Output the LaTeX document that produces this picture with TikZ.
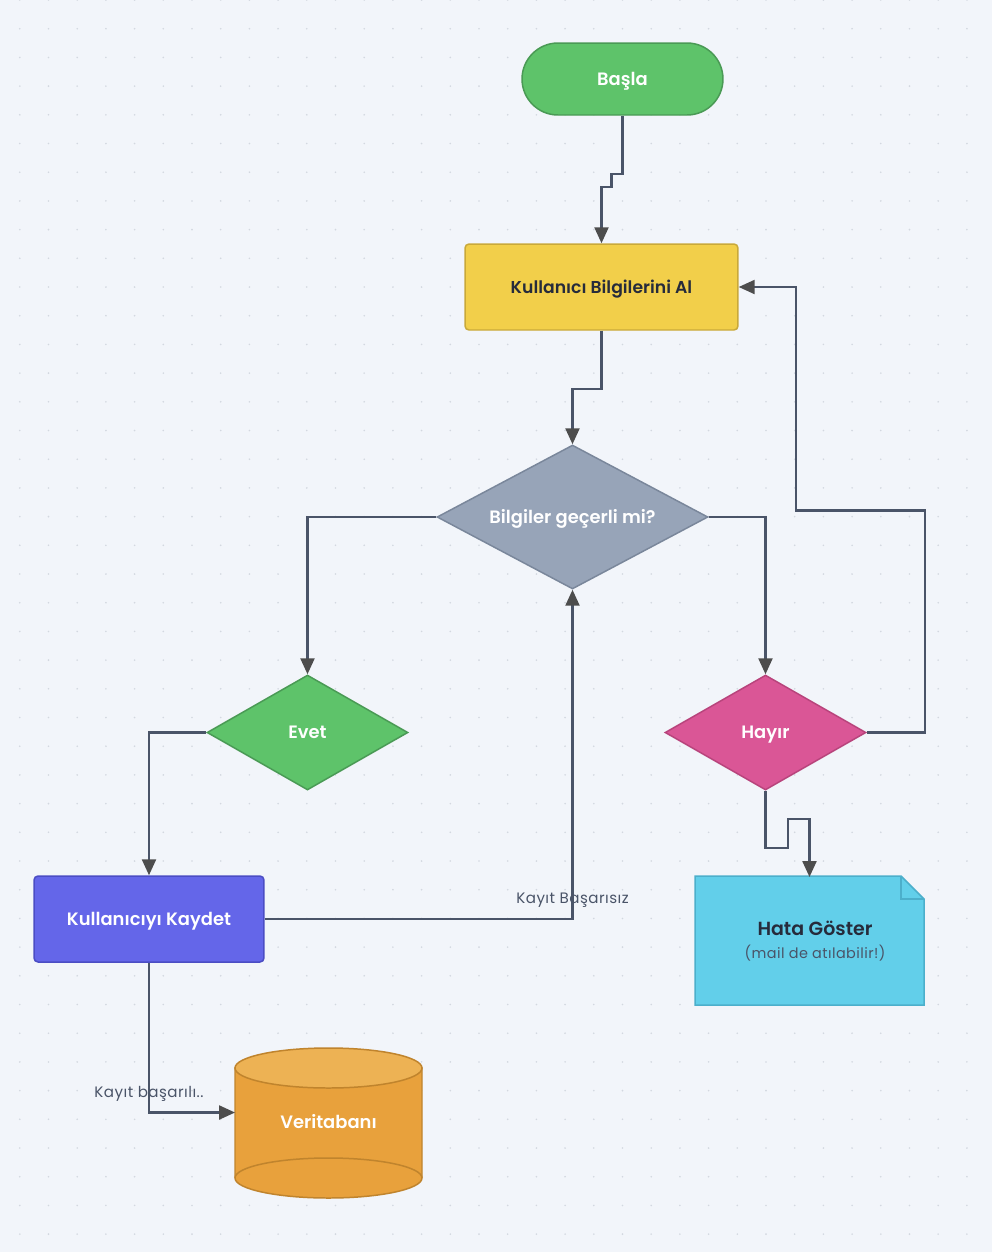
\documentclass[tikz,border=0pt]{standalone}
\usepackage{fontspec}
\setmainfont{Poppins}[BoldFont={Poppins SemiBold}]
\newfontfamily\labelfont{Poppins}[LetterSpace=3]
\usepackage{xcolor}
\definecolor{paper}{HTML}{F2F5FA}
\definecolor{dotgray}{HTML}{D3D8E0}
\definecolor{flowline}{HTML}{4A5468}
\definecolor{tipgray}{HTML}{4D4D4D}
\definecolor{inkdark}{HTML}{262B3B}
\definecolor{startgreen}{HTML}{5EC36A}
\definecolor{startedge}{HTML}{4A9A55}
\definecolor{getyellow}{HTML}{F2CF4A}
\definecolor{getedge}{HTML}{C9A93A}
\definecolor{checkgray}{HTML}{97A4B8}
\definecolor{checkedge}{HTML}{7A879B}
\definecolor{nopink}{HTML}{DA5696}
\definecolor{noedge}{HTML}{B8447C}
\definecolor{saveblue}{HTML}{6466E9}
\definecolor{saveedge}{HTML}{4B4DC4}
\definecolor{errcyan}{HTML}{62CFEA}
\definecolor{erredge}{HTML}{4CAFCB}
\definecolor{dbbody}{HTML}{E8A13C}
\definecolor{dbtop}{HTML}{EDB254}
\definecolor{dbedge}{HTML}{C0842D}
\usetikzlibrary{arrows.meta,shapes.geometric}

\begin{document}
\begin{tikzpicture}[
		x=0.02cm, y=-0.02cm,
		mainfont/.style={font=\fontsize{10.2}{12}\selectfont\bfseries, text height=0.72em, text depth=0pt},
		stepbox/.style={draw, line width=0.85pt, rounded corners=0.08cm, minimum height=1.72cm, mainfont, text=white},
		decision/.style={diamond, draw, line width=0.85pt, inner sep=0pt, aspect=1.75, minimum width=4.02cm, minimum height=2.3cm, mainfont, text=white},
		flow/.style={draw=flowline, line width=1.3pt, -{Triangle[length=0.32cm, width=0.28cm, color=tipgray]}},
		lbl/.style={font=\labelfont\fontsize{8.6}{10}\selectfont, text=flowline, inner sep=0pt},
	]
		\useasboundingbox (0,0) rectangle (992,1252);
		\fill[paper] (0,0) rectangle (992,1252);
		\foreach \i in {0,...,34}
			\foreach \j in {0,...,43}
				\fill[dotgray] (19.8+28.7*\i, 28.7*\j) circle[radius=0.9];

		\node[stepbox, fill=startgreen, draw=startedge, minimum width=4.02cm, minimum height=1.44cm, rounded corners=0.72cm] (basla) at (622.5,79) {Başla};
		\node[stepbox, fill=getyellow, draw=getedge, minimum width=5.46cm, text=inkdark, font=\fontsize{9.8}{12}\selectfont\bfseries] (bilgi) at (601.5,287) {Kullanıcı Bilgilerini Al};
		\node[decision, fill=checkgray, draw=checkedge, aspect=1.88, minimum width=5.42cm, minimum height=2.88cm] (kontrol) at (572.5,517) {Bilgiler geçerli mi?};
		\node[decision, fill=startgreen, draw=startedge] (evet) at (307.5,732.5) {Evet};
		\node[decision, fill=nopink, draw=noedge] (hayir) at (765.5,732.5) {Hayır};
		\node[stepbox, fill=saveblue, draw=saveedge, minimum width=4.6cm] (kaydet) at (149,919) {Kullanıcıyı Kaydet};

		\filldraw[fill=errcyan, draw=erredge, line width=0.85pt] (695,876) -- (901,876) -- (924,899) -- (924,1005) -- (695,1005) -- cycle;
		\draw[erredge, line width=0.85pt] (901,876) -- (901,899) -- (924,899);
		\node[minimum width=4.58cm, minimum height=2.58cm, outer sep=0pt, align=center, text=inkdark] (hata) at (809.5,941.5)
			{\hspace*{0.22cm}\fontsize{10.8}{12}\selectfont\bfseries Hata Göster\\[1pt]\hspace*{0.22cm}{\labelfont\fontsize{8.2}{10}\selectfont\color{flowline}(mail de atılabilir!)}};

		\filldraw[fill=dbbody, draw=dbedge, line width=0.85pt] (235,1068) -- (235,1178) arc[start angle=180, end angle=0, x radius=93.5, y radius=20] -- (422,1068) -- cycle;
		\draw[dbedge, line width=0.85pt] (235,1178) arc[start angle=180, end angle=360, x radius=93.5, y radius=20];
		\filldraw[fill=dbtop, draw=dbedge, line width=0.85pt] (328.5,1068) ellipse[x radius=93.5, y radius=20];
		\node[minimum width=3.74cm, minimum height=2.98cm, outer sep=0pt, mainfont, text=white] (db) at (328.5,1122.5) {Veritabanı};

		\draw[flow] (basla.south) -- ++(0,58) -- ++(-11,0) -- ++(0,13) -| (bilgi.north);
		\draw[flow] (bilgi.south) -- ++(0,58) -| (kontrol.north);
		\draw[flow] (kontrol.west) -| (evet.north);
		\draw[flow] (kontrol.east) -| (hayir.north);
		\draw[flow] (evet.west) -| (kaydet.north);
		\draw[flow] (kaydet.east) -| node[lbl, pos=0.5, above=0.2cm] {Kayıt Başarısız} (kontrol.south);
		\draw[flow] (hayir.east) -- ++(58,0) |- ++(-129,-222) |- (bilgi.east);
		\draw[flow] (hayir.south) -- ++(0,57) -- ++(22.5,0) -- ++(0,-29) -| (hata.north);
		\draw[flow] (kaydet.south) |- node[lbl, pos=0.5, above=0.2cm] {Kayıt başarılı..} ([yshift=0.2cm]db.west);
	\end{tikzpicture}
\end{document}
